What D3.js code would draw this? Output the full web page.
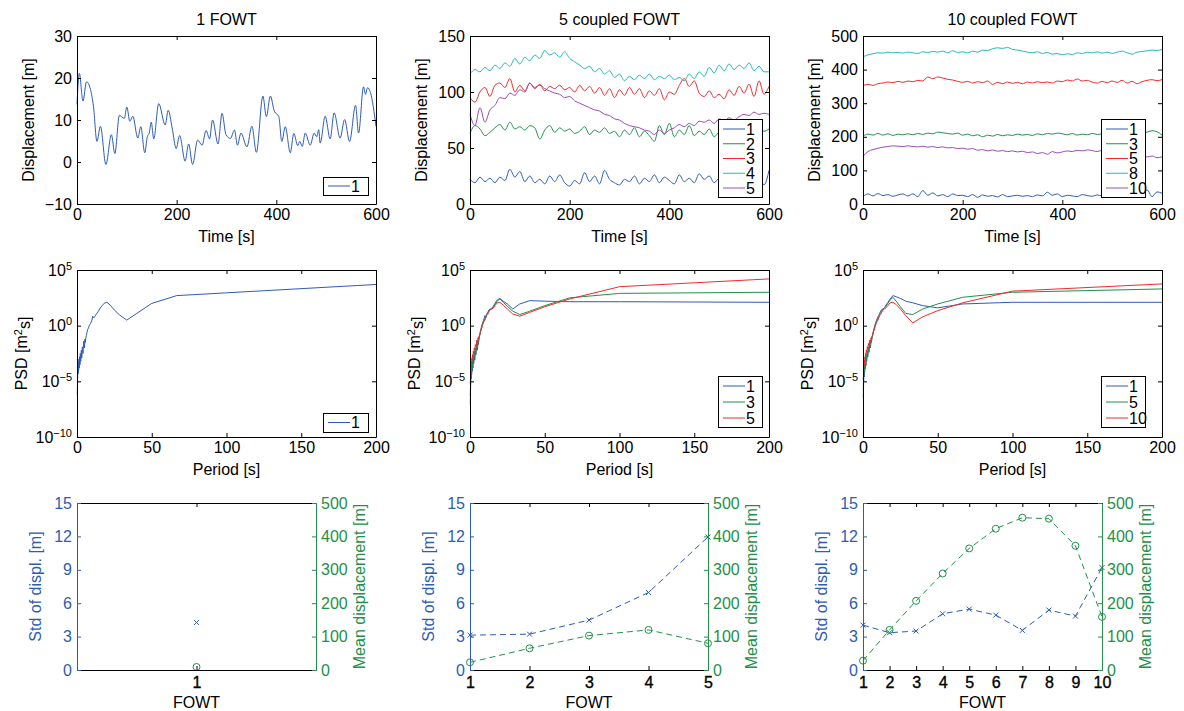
<!DOCTYPE html>
<html>
<head>
<meta charset="utf-8">
<script src="https://cdn.jsdelivr.net/npm/d3@7"></script>
<style>
body { margin: 0; background: #fff; }
svg text { font-family: "Liberation Sans", Arial, Helvetica, sans-serif; font-size: 16px; fill: #000; }
</style>
</head>
<body>
<script>
// ---------- data ----------
// 1 FOWT displacement, traced peaks/troughs
const time1 = [0,4.7,12,19,27,33,40,47,58,69,76,85,95,100,106,112,122,128,136,141,145,149,154,164,177,183,191,199,206,217,224,232,242,251,259,266,272,283,291,299,308,316,322,329,341,351,360,373,380,388,396,405,411,418,428,435,443,447,452,458,468,476,481,485,488,498,508,516,528,537,547,559,565,575,579,583,589,600];
const disp1 = [13.7,21.1,14.5,19.1,17.3,13.3,4.9,8.5,-0.6,6.5,2.0,11.1,10.4,13.1,9.7,10.9,5.7,8.4,2.2,6.0,6.9,9.5,5.5,13.9,8.8,12.3,8.1,3.2,6.3,0.2,4.3,-0.6,5.2,4.0,7.5,5.5,10.0,4.3,11.6,6.5,5.6,7.6,4.0,6.9,3.6,8.5,2.3,15.7,10.8,15.7,12.1,10.8,4.9,8.4,2.2,6.8,3.9,4.9,3.7,6.9,4.0,6.9,6.0,7.7,4.5,10.9,5.5,11.7,5.7,10.1,4.9,13.5,6.9,17.9,16.1,17.7,16.5,8.5];

// coupled farms, sampled every 10 s
const tSample = d3.range(0, 601, 10);
const disp5_1 = [22,19,24,20,23,19,24,21,31,24, 29,20,25,19,22,18,25,20,26,19, 16,21,18,28,20,25,18,30,22,19, 17,22,20,25,18,23,20,26,19,24, 21,18,26,20,23,19,27,22,25,19, 23,20,25,19,26,21,24,18,25,17, 30];
const disp5_2 = [63,70,67,61,64,68,71,66,73,67, 69,66,70,68,58,66,70,64,68,65, 67,63,65,69,62,66,64,68,63,65, 60,66,62,68,60,65,61,56,70,62, 72,60,66,62,70,61,65,62,67,60, 64,60,66,62,67,63,65,61,66,65, 67];
const disp5_3 = [95,91,100,104,96,106,108,104,112,100, 106,101,108,103,107,101,105,103,106,102, 104,100,106,101,105,99,104,97,103,95, 102,97,104,98,103,95,101,97,103,93, 100,98,106,112,105,110,99,96,101,95, 98,94,102,97,105,99,107,96,110,98, 105];
const disp5_4 = [116,120,118,122,119,124,121,126,123,130, 125,131,128,133,130,137,133,135,131,136, 130,127,124,121,123,118,121,116,119,113, 116,110,114,111,115,112,116,111,114,112, 115,111,113,110,116,112,118,114,122,117, 124,119,125,120,124,121,126,119,123,118, 118];
const disp5_5 = [80,70,86,73,84,88,95,94,99,97, 102,100,108,104,106,103,101,99,98,95, 96,92,90,88,86,84,83,80,79,76, 75,72,70,69,68,66,65,62,66,63, 66,68,71,69,72,70,74,73,75,72, 76,74,77,75,78,80,79,82,80,81, 80];

const disp10_1 = [22,30,24,31,25,28,23,27,30,24, 30,22,40,26,33,24,28,22,30,25, 26,22,28,20,27,23,25,21,28,22, 24,26,23,25,22,27,24,35,26,30, 22,26,24,22,28,25,23,27,24,28, 22,30,25,20,28,24,30,42,22,36, 32];
const disp10_3 = [202,208,205,210,205,209,204,208,206,209, 206,210,207,211,209,214,212,210,208,211, 205,208,203,206,200,205,202,207,203,206, 204,208,205,207,204,209,206,210,208,211, 209,206,210,205,208,206,210,207,209,212, 208,211,206,212,209,215,210,214,218,215, 205];
const disp10_5 = [352,356,353,358,360,363,361,365,362,366, 364,368,366,378,373,378,375,371,369,365, 362,365,360,364,361,366,356,362,358,363, 359,362,358,363,360,364,361,363,360,366, 364,369,366,372,366,368,363,360,365,361, 366,362,368,360,365,358,364,368,370,367, 370];
const disp10_8 = [438,444,447,450,449,452,450,451,449,452, 450,448,453,451,454,452,455,450,456,451, 453,450,455,452,458,457,462,465,463,466, 460,458,455,452,450,453,448,451,446,448, 444,447,445,450,448,452,450,453,449,452, 448,452,455,450,446,452,454,456,458,457, 460];
const disp10_10 = [142,156,162,166,169,171,173,172,171,173, 171,170,172,169,171,168,170,167,168,165, 166,163,165,160,162,158,161,157,159,156, 158,155,157,153,155,150,153,148,156,152, 155,158,156,160,158,161,159,156,160,155, 152,150,147,145,148,142,145,140,143,138, 140];

// PSD: periods [s] and log10(PSD [m^2 s])
const periods = [200,100,66.7,50,40,33.3,28.6,25,22.2,20,18.2,16.7,15.4,14.3,13.3,12.5,11.8,11.1,10.5,10,9.1,8.3,7.7,7.1,6.7,6.25,5.9,5.6,5.3,5,4.5,4,3.6,3.2,2.9,2.5,2.2,2,1.7,1.5,1.3,1.1,1,0.8,0.6,0.4,0.2];
const psd1_1 = [3.7,2.95,2.7,2.0,1.1,0.5,0.95,1.4,1.85,2.1, 2.0,1.8,1.55,1.3,1.1,0.95,0.8,0.7,0.85,0.5, 0.2,0.05,-0.2,-0.35,-0.6,-0.9,-1.1,-1.5,-1.2,-2.0, -1.4,-2.5,-1.9,-2.9,-2.2,-3.2,-2.5,-3.5,-2.8,-3.8, -3.0,-4.0,-3.3,-4.3,-3.6,-4.8,-6.2];
const psd5_1 = [2.1,2.15,2.15,2.2,2.25,1.95,1.5,1.95,2.2,2.45, 2.3,2.0,1.7,1.55,1.45,1.4,1.1,1.0,0.7,0.9, 0.5,0.2,-0.1,-0.4,-0.7,-1.0,-1.3,-1.7,-1.5,-2.2, -1.8,-2.6,-2.3,-3.1,-2.7,-3.4,-3.0,-3.8,-3.3,-4.1, -3.6,-4.4,-3.9,-4.8,-4.3,-5.5,-7.1];
const psd5_3 = [3.0,2.9,2.5,1.8,1.3,1.0,1.3,1.75,2.1,2.4, 2.2,1.9,1.6,1.45,1.5,1.3,1.2,1.0,0.8,0.6, 0.4,0.1,-0.2,-0.5,-0.8,-1.0,-1.3,-1.5,-1.4,-1.9, -1.6,-2.3,-2.0,-2.7,-2.3,-3.0,-2.7,-3.4,-3.0,-3.7, -3.3,-4.0,-3.6,-4.4,-4.0,-5.0,-6.3];
const psd5_5 = [4.2,3.5,2.4,1.7,1.2,0.85,1.05,1.5,1.85,2.1, 2.05,1.8,1.55,1.5,1.4,1.2,1.0,0.9,0.7,0.5, 0.3,0.0,-0.3,-0.5,-0.7,-0.9,-1.0,-1.2,-1.1,-1.5, -1.3,-1.9,-1.7,-2.2,-2.0,-2.5,-2.3,-2.8,-2.6,-3.1, -2.9,-3.4,-3.2,-3.7,-3.5,-4.1,-5.3];
const psd10_1 = [2.1,2.1,1.95,1.6,1.8,2.05,2.2,2.45,2.6,2.7, 2.4,2.1,1.85,1.6,1.5,1.45,1.3,1.1,0.9,0.8, 0.5,0.2,-0.1,-0.4,-0.6,-0.9,-1.2,-1.5,-1.4,-2.0, -1.7,-2.4,-2.1,-2.8,-2.5,-3.2,-2.9,-3.6,-3.2,-3.9, -3.5,-4.2,-3.8,-4.6,-4.2,-5.2,-6.5];
const psd10_5 = [3.3,3.0,2.55,1.95,1.5,1.0,1.1,1.7,2.2,2.55, 2.3,2.0,1.75,1.6,1.5,1.35,1.15,1.0,0.75,0.6, 0.4,0.1,-0.2,-0.5,-0.8,-1.0,-1.2,-1.5,-1.3,-1.8, -1.5,-2.2,-1.9,-2.6,-2.3,-2.9,-2.6,-3.2,-2.9,-3.5, -3.1,-3.8,-3.4,-4.1,-3.8,-4.7,-5.8];
const psd10_10 = [3.75,3.1,2.05,1.35,0.8,0.25,0.9,1.5,1.9,2.1, 2.05,1.8,1.6,1.5,1.4,1.2,1.0,0.9,0.7,0.5, 0.3,0.0,-0.3,-0.5,-0.7,-0.9,-1.0,-1.2,-1.1,-1.5, -1.3,-1.8,-1.6,-2.1,-1.9,-2.4,-2.2,-2.7,-2.5,-3.0, -2.8,-3.3,-3.1,-3.6,-3.4,-4.0,-4.9];

// statistics per FOWT
const fowt1 = [1], std1 = [4.27], mean1 = [9];
const fowt5 = [1,2,3,4,5];
const std5 = [3.13,3.22,4.48,6.96,11.95];
const mean5 = [23,65,103,120,80];
const fowt10 = [1,2,3,4,5,6,7,8,9,10];
const std10 = [4.03,3.35,3.5,5.05,5.47,4.93,3.56,5.38,4.84,9.2];
const mean10 = [28,120,207,289,364,423,456,453,372,159];

const titles = ["1 FOWT", "5 coupled FOWT", "10 coupled FOWT"];

// ---------- layout ----------
const W = 1184, H = 711;
const col = { blue: "#2d5cb6", green: "#21914a", red: "#f02a2a", cyan: "#1fbcbc", purple: "#9a4cb6" };
const colsTop = [[77, 376], [470, 769], [863, 1162]];
const colsBot = [[77, 316], [470, 708], [863, 1102]];
const rows = [[36, 204], [270, 437], [503, 670]];
const TK = 4;
const minus = (s) => String(s).replace("-", "\u2212");

const svg = d3.select("body").append("svg").attr("width", W).attr("height", H);

function styleAxis(g, color) {
  g.attr("font-size", null).attr("font-family", null);
  g.select(".domain").attr("stroke", color).attr("stroke-width", 1);
  g.selectAll(".tick line").attr("stroke", color);
  g.selectAll(".tick text").attr("fill", color).style("fill", color);
}

// box with inward ticks on four sides
function frame(x, y, xt, yt, yFmt, opt = {}) {
  const [x0, x1] = x.range();
  const [y1, y0] = y.range();
  const lc = opt.leftColor || "#000", rc = opt.rightColor || "#000";
  const b = svg.append("g").attr("transform", `translate(0,${y1})`)
    .call(d3.axisBottom(x).tickValues(xt).tickSize(-TK).tickSizeOuter(0).tickPadding(opt.boldX ? 7 : 5).tickFormat(d3.format("d")));
  styleAxis(b, "#000");
  if (opt.boldX) b.selectAll(".tick text").attr("stroke", "#000").attr("stroke-width", 0.35);
  const t = svg.append("g").attr("transform", `translate(0,${y0})`)
    .call(d3.axisTop(x).tickValues(xt).tickSize(-TK).tickSizeOuter(0).tickFormat(""));
  styleAxis(t, "#000");
  const l = svg.append("g").attr("transform", `translate(${x0},0)`)
    .call(d3.axisLeft(y).tickValues(yt).tickSize(-TK).tickSizeOuter(0).tickPadding(5).tickFormat(yFmt));
  styleAxis(l, lc);
  let r;
  if (opt.yR) {
    r = svg.append("g").attr("transform", `translate(${x1},0)`)
      .call(d3.axisRight(opt.yR).tickValues(opt.yRt).tickSize(-TK).tickSizeOuter(0).tickPadding(5).tickFormat(d3.format("d")));
  } else {
    r = svg.append("g").attr("transform", `translate(${x1},0)`)
      .call(d3.axisRight(y).tickValues(yt).tickSize(-TK).tickSizeOuter(0).tickFormat(""));
  }
  styleAxis(r, rc);
  return l;
}

function logLabels(g) {
  g.selectAll(".tick text").text(null).each(function (d) {
    const tx = d3.select(this);
    tx.append("tspan").text("10");
    tx.append("tspan").attr("dy", "-0.55em").style("font-size", "11px").text(minus(Math.round(Math.log10(d))));
  });
}

function legend(x, y, w, h, items) {
  const g = svg.append("g");
  g.append("rect").attr("x", x + 0.5).attr("y", y + 0.5).attr("width", w).attr("height", h)
    .attr("fill", "#fff").attr("stroke", "#000").attr("stroke-width", 1);
  const step = items.length > 1 ? (h - 19) / (items.length - 1) : 0;
  items.forEach((it, i) => {
    const cy = y + (items.length > 1 ? 10 : h / 2) + i * step;
    g.append("line").attr("x1", x + 5).attr("x2", x + 27).attr("y1", cy).attr("y2", cy)
      .attr("stroke", it.c).attr("stroke-width", 1);
    g.append("text").attr("x", x + 28).attr("y", cy).attr("dy", "0.36em").text(it.n);
  });
}

function xLabel(c, yb, s) {
  svg.append("text").attr("x", (c[0] + c[1]) / 2).attr("y", yb).attr("text-anchor", "middle").text(s);
}
function yLabel(xb, yc, s, color) {
  const t = svg.append("text").attr("transform", `translate(${xb},${yc}) rotate(-90)`)
    .attr("text-anchor", "middle").style("fill", color || "#000");
  if (typeof s === "string") t.text(s); else s(t);
  return t;
}

// ---------- row 1: time series ----------
const timeSets = [
  { lines: [{ t: time1, v: disp1, c: col.blue, n: "1" }], dom: [-10, 30], ticks: [-10, 0, 10, 20, 30],
    leg: [323, 177, 45, 18] },
  { lines: [
      { t: tSample, v: disp5_1, c: col.blue, n: "1" },
      { t: tSample, v: disp5_2, c: col.green, n: "2" },
      { t: tSample, v: disp5_3, c: col.red, n: "3" },
      { t: tSample, v: disp5_4, c: col.cyan, n: "4" },
      { t: tSample, v: disp5_5, c: col.purple, n: "5" }],
    dom: [0, 150], ticks: [0, 50, 100, 150], leg: [718, 119, 44, 78] },
  { lines: [
      { t: tSample, v: disp10_1, c: col.blue, n: "1" },
      { t: tSample, v: disp10_3, c: col.green, n: "3" },
      { t: tSample, v: disp10_5, c: col.red, n: "5" },
      { t: tSample, v: disp10_8, c: col.cyan, n: "8" },
      { t: tSample, v: disp10_10, c: col.purple, n: "10" }],
    dom: [0, 500], ticks: [0, 100, 200, 300, 400, 500], leg: [1101, 119, 44, 78] }
];

timeSets.forEach((s, i) => {
  const c = colsTop[i];
  const x = d3.scaleLinear().domain([0, 600]).range(c);
  const y = d3.scaleLinear().domain(s.dom).range([rows[0][1], rows[0][0]]);
  const line = d3.line().x(d => x(d[0])).y(d => y(d[1])).curve(d3.curveMonotoneX);
  s.lines.forEach(l => {
    svg.append("path").datum(d3.zip(l.t, l.v)).attr("d", line)
      .attr("fill", "none").attr("stroke", l.c).attr("stroke-width", 1);
  });
  frame(x, y, [0, 200, 400, 600], s.ticks, d => minus(d));
  legend(s.leg[0], s.leg[1], s.leg[2], s.leg[3], s.lines);
  svg.append("text").attr("x", (c[0] + c[1]) / 2).attr("y", rows[0][0] - 11)
    .attr("text-anchor", "middle").text(titles[i]);
  xLabel(c, rows[0][1] + 38, "Time [s]");
  yLabel(c[0] - 43, (rows[0][0] + rows[0][1]) / 2, "Displacement [m]");
});

// ---------- row 2: PSD ----------
const psdSets = [
  { lines: [{ v: psd1_1, c: col.blue, n: "1" }], leg: [323, 413, 45, 19] },
  { lines: [{ v: psd5_1, c: col.blue, n: "1" }, { v: psd5_3, c: col.green, n: "3" }, { v: psd5_5, c: col.red, n: "5" }],
    leg: [718, 376, 44, 51] },
  { lines: [{ v: psd10_1, c: col.blue, n: "1" }, { v: psd10_5, c: col.green, n: "5" }, { v: psd10_10, c: col.red, n: "10" }],
    leg: [1101, 376, 44, 51] }
];

psdSets.forEach((s, i) => {
  const c = colsTop[i];
  const x = d3.scaleLinear().domain([0, 200]).range(c);
  const y = d3.scaleLog().domain([1e-10, 1e5]).range([rows[1][1], rows[1][0]]);
  const line = d3.line().x(d => x(d[0])).y(d => y(Math.pow(10, d[1])));
  s.lines.forEach(l => {
    svg.append("path").datum(d3.zip(periods, l.v)).attr("d", line)
      .attr("fill", "none").attr("stroke", l.c).attr("stroke-width", 1);
  });
  const l = frame(x, y, [0, 50, 100, 150, 200], [1e-10, 1e-5, 1, 1e5], () => "");
  logLabels(l);
  legend(s.leg[0], s.leg[1], s.leg[2], s.leg[3], s.lines);
  xLabel(c, rows[1][1] + 38, "Period [s]");
  yLabel(c[0] - 50, (rows[1][0] + rows[1][1]) / 2, t => {
    t.append("tspan").text("PSD [m");
    t.append("tspan").attr("dy", "-0.5em").style("font-size", "11px").text("2");
    t.append("tspan").attr("dy", "0.5em").text("s]");
  });
});

// ---------- row 3: std and mean ----------
const statSets = [
  { f: fowt1, s: std1, m: mean1, dom: [0, 2], ticks: [1] },
  { f: fowt5, s: std5, m: mean5, dom: [1, 5], ticks: fowt5 },
  { f: fowt10, s: std10, m: mean10, dom: [1, 10], ticks: fowt10 }
];

statSets.forEach((s, i) => {
  const c = colsBot[i];
  const x = d3.scaleLinear().domain(s.dom).range(c);
  const yL = d3.scaleLinear().domain([0, 15]).range([rows[2][1], rows[2][0]]);
  const yR = d3.scaleLinear().domain([0, 500]).range([rows[2][1], rows[2][0]]);
  const ls = d3.line().x((d, j) => x(s.f[j])).y(d => yL(d));
  const lm = d3.line().x((d, j) => x(s.f[j])).y(d => yR(d));
  if (s.f.length > 1) {
    svg.append("path").datum(s.s).attr("d", ls).attr("fill", "none")
      .attr("stroke", col.blue).attr("stroke-width", 1).attr("stroke-dasharray", "6,4");
    svg.append("path").datum(s.m).attr("d", lm).attr("fill", "none")
      .attr("stroke", col.green).attr("stroke-width", 1).attr("stroke-dasharray", "6,4");
  }
  svg.append("g").selectAll("path").data(s.s).join("path")
    .attr("transform", (d, j) => `translate(${x(s.f[j])},${yL(d)})`)
    .attr("d", "M-2.5,-2.5L2.5,2.5M-2.5,2.5L2.5,-2.5")
    .attr("stroke", col.blue).attr("stroke-width", 1).attr("fill", "none");
  svg.append("g").selectAll("circle").data(s.m).join("circle")
    .attr("cx", (d, j) => x(s.f[j])).attr("cy", d => yR(d)).attr("r", 3.5)
    .attr("stroke", col.green).attr("stroke-width", 1).attr("fill", "none");
  frame(x, yL, s.ticks, [0, 3, 6, 9, 12, 15], d3.format("d"),
    { yR: yR, yRt: [0, 100, 200, 300, 400, 500], leftColor: col.blue, rightColor: col.green, boldX: true });
  xLabel(c, rows[2][1] + 38, "FOWT");
  yLabel(c[0] - 36, (rows[2][0] + rows[2][1]) / 2, "Std of displ. [m]", col.blue);
  yLabel(c[1] + 49, (rows[2][0] + rows[2][1]) / 2, "Mean displacement [m]", col.green);
});
</script>
</body>
</html>
